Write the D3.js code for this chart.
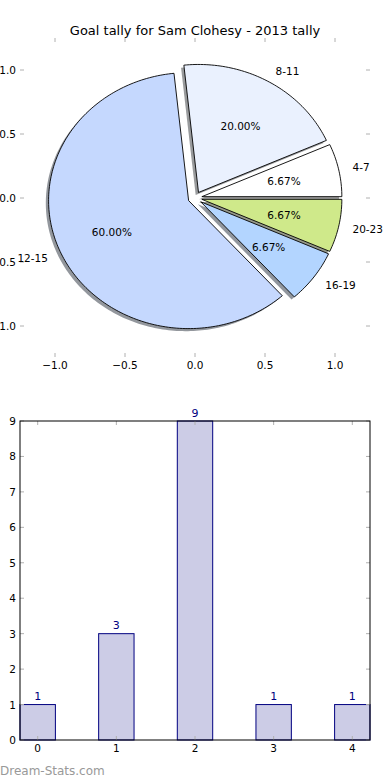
<!DOCTYPE html>
<html><head><meta charset="utf-8">
<script src="https://cdn.jsdelivr.net/npm/d3@7"></script>
<style>body{margin:0;background:#fff;} text{font-family:"DejaVu Sans",sans-serif;}</style>
</head><body>
<svg id="c" width="390" height="780"></svg>
<script>
// ---- data ----
const title = "Goal tally for Sam Clohesy - 2013 tally";
const pieLabels = ["4-7", "8-11", "12-15", "16-19", "20-23"];
const pieValues = [1, 3, 9, 1, 1];
const pieColors = ["#ffffff", "#eaf1fe", "#c5d8fe", "#b3d5ff", "#cfe98a"];
const pieExplode = [0.05, 0.05, 0.05, 0.05, 0.05];
const pieTicks = [-1.0, -0.5, 0.0, 0.5, 1.0];
const barCats = [0, 1, 2, 3, 4];
const barValues = [1, 3, 9, 1, 1];
const barTicksY = [0, 1, 2, 3, 4, 5, 6, 7, 8, 9];
const watermark = "Dream-Stats.com";

const svg = d3.select("#c");
const fmtTick = d => d3.format(".1f")(d).replace("-", "\u2212");

// ---- pie axes ----
const px = d3.scaleLinear().domain([-1.25, 1.25]).range([20, 370]);
const py = d3.scaleLinear().domain([-1.25, 1.25]).range([358, 38]);

svg.append("text").attr("x", 195).attr("y", 35).attr("text-anchor", "middle")
  .attr("font-size", 13).attr("fill", "#000").text(title);

// tick marks (gray, inward, no spines)
const tickCol = "#b0b0b0";
const pt = svg.append("g");
pieTicks.forEach(t => {
  pt.append("line").attr("x1", px(t)).attr("x2", px(t)).attr("y1", 38).attr("y2", 42).attr("stroke", tickCol);
  pt.append("line").attr("x1", px(t)).attr("x2", px(t)).attr("y1", 357).attr("y2", 353).attr("stroke", tickCol);
  pt.append("line").attr("x1", 20).attr("x2", 24).attr("y1", py(t)).attr("y2", py(t)).attr("stroke", tickCol);
  pt.append("line").attr("x1", 370).attr("x2", 366).attr("y1", py(t)).attr("y2", py(t)).attr("stroke", tickCol);
  pt.append("text").attr("x", px(t)).attr("y", 369).attr("text-anchor", "middle").attr("font-size", 10.5).text(fmtTick(t));
  pt.append("text").attr("x", 16).attr("y", py(t) + 4).attr("text-anchor", "end").attr("font-size", 10.5).text(fmtTick(t));
});

const arcs = d3.pie().sort(null).value(d => d)(pieValues);
function wedgePath(a, ox, oy) {
  const pts = [[0, 0]];
  const n = Math.max(8, Math.ceil((a.endAngle - a.startAngle) / 0.02));
  for (let i = 0; i <= n; i++) {
    const th = a.startAngle + (a.endAngle - a.startAngle) * i / n;
    pts.push([Math.cos(th), Math.sin(th)]);
  }
  return d3.line().x(p => px(p[0] + ox)).y(p => py(p[1] + oy))(pts) + "Z";
}
const info = arcs.map((a, i) => {
  const mid = (a.startAngle + a.endAngle) / 2;
  const ox = pieExplode[i] * Math.cos(mid), oy = pieExplode[i] * Math.sin(mid);
  return {a, i, mid, ox, oy};
});
// shadows
info.forEach(d => {
  const c = d3.rgb(pieColors[d.i]);
  svg.append("path").attr("d", wedgePath(d.a, d.ox - 0.02, d.oy - 0.02))
    .attr("fill", d3.rgb(c.r * 0.3, c.g * 0.3, c.b * 0.3)).attr("fill-opacity", 0.55);
});
// wedges
info.forEach(d => {
  svg.append("path").attr("d", wedgePath(d.a, d.ox, d.oy))
    .attr("fill", pieColors[d.i]).attr("stroke", "#000").attr("stroke-width", 0.9).attr("stroke-linejoin", "miter");
});
const total = d3.sum(pieValues);
info.forEach(d => {
  const lx = 1.1 * Math.cos(d.mid) + d.ox, ly = 1.1 * Math.sin(d.mid) + d.oy;
  svg.append("text").attr("x", px(lx)).attr("y", py(ly) + 4)
    .attr("text-anchor", lx > 0 ? "start" : "end").attr("font-size", 10.5).text(pieLabels[d.i]);
  const qx = 0.6 * Math.cos(d.mid) + d.ox, qy = 0.6 * Math.sin(d.mid) + d.oy;
  svg.append("text").attr("x", px(qx)).attr("y", py(qy) + 4)
    .attr("text-anchor", "middle").attr("font-size", 10.5)
    .text((100 * pieValues[d.i] / total).toFixed(2) + "%");
});

// ---- bar chart ----
const bx = d3.scaleLinear().domain([-0.225, 4.225]).range([20, 370]);
const by = d3.scaleLinear().domain([0, 9]).range([740, 421]);
const bw = 0.45;
const bars = svg.append("g");
barCats.forEach((c, i) => {
  bars.append("rect").attr("x", bx(c - bw / 2)).attr("y", by(barValues[i]))
    .attr("width", bx(c + bw / 2) - bx(c - bw / 2)).attr("height", by(0) - by(barValues[i]))
    .attr("fill", "#cccce6").attr("stroke", "#000080").attr("stroke-width", 1);
  bars.append("text").attr("x", bx(c)).attr("y", by(barValues[i]) - 4.5).attr("text-anchor", "middle")
    .attr("font-size", 11).attr("fill", "#000080").text(barValues[i]);
});
// ticks
barCats.forEach(c => {
  bars.append("line").attr("x1", bx(c)).attr("x2", bx(c)).attr("y1", 421).attr("y2", 425).attr("stroke", tickCol);
  bars.append("line").attr("x1", bx(c)).attr("x2", bx(c)).attr("y1", 740).attr("y2", 736).attr("stroke", tickCol);
  bars.append("text").attr("x", bx(c)).attr("y", 752).attr("text-anchor", "middle").attr("font-size", 10.5).text(c);
});
barTicksY.forEach(t => {
  bars.append("line").attr("x1", 20).attr("x2", 24).attr("y1", by(t)).attr("y2", by(t)).attr("stroke", tickCol);
  bars.append("line").attr("x1", 370).attr("x2", 366).attr("y1", by(t)).attr("y2", by(t)).attr("stroke", tickCol);
  bars.append("text").attr("x", 16).attr("y", by(t) + 4).attr("text-anchor", "end").attr("font-size", 10.5).text(t);
});
bars.append("rect").attr("x", 20).attr("y", 421).attr("width", 350).attr("height", 319)
  .attr("fill", "none").attr("stroke", "#000").attr("stroke-width", 1);

svg.append("text").attr("x", 0).attr("y", 775).attr("font-size", 12)
  .attr("fill", "#999999").text(watermark);
</script>
</body></html>
